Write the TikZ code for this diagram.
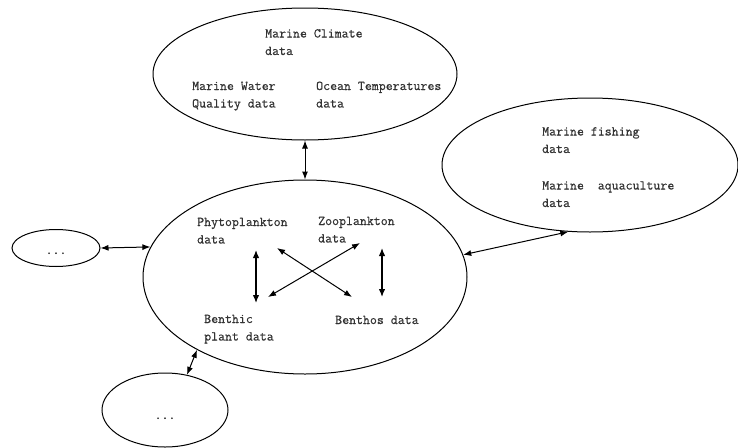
\documentclass[tikz,border=0pt]{standalone}
\usepackage{fontspec}
\newfontfamily\diagfont[FakeBold=0.6]{Latin Modern Mono}
\usetikzlibrary{shapes.geometric,arrows.meta}
\begin{document}
\begin{tikzpicture}[x=1pt,y=-1pt,
  blob/.style={draw, ellipse, line width=1pt, inner sep=0pt},
  lbl/.style={anchor=base west, inner sep=0pt, align=left, text=black!80,
    font=\diagfont\fontsize{13.5}{17.5}\selectfont},
  dots/.style={inner sep=0pt, text=black!80, font=\diagfont\fontsize{13.5}{14}\selectfont},
  link/.style={line width=1pt, {Latex[length=8pt,width=6pt]}-{Latex[length=8pt,width=6pt]}},
  inner/.style={line width=1.3pt, {Latex[length=8pt,width=6.5pt]}-{Latex[length=8pt,width=6.5pt]}}]
\useasboundingbox (0,0) rectangle (738,447);
% ellipses
\node[blob, minimum width=304pt, minimum height=132pt] (top) at (305,74) {};
\node[blob, minimum width=324pt, minimum height=194pt] (main) at (305,277) {};
\node[blob, minimum width=296pt, minimum height=134pt] (right) at (590,165) {};
\node[blob, minimum width=88pt, minimum height=37pt] (left) at (56,248) {};
\node[blob, minimum width=126pt, minimum height=74pt] (bottom) at (165,410) {};
% texts (base = baseline of last line)
\node[lbl] (climate) at (265,55) {Marine Climate\\data};
\node[lbl] (water) at (192,107.5) {Marine Water\\Quality data};
\node[lbl] (ocean) at (316,107.5) {Ocean Temperatures\\data};
\node[lbl] (fishing) at (542,153) {Marine fishing\\data};
\node[lbl] (aqua) at (542,207) {Marine\ \ aquaculture\\data};
\node[lbl] (phyto) at (197,243.5) {Phytoplankton\\data};
\node[lbl] (zoo) at (318,242.5) {Zooplankton\\data};
\node[lbl] (benthic) at (204,340.5) {Benthic\\plant data};
\node[lbl] (benthos) at (335,324) {Benthos data};
\node[dots, anchor=base] (ldots) at (56,254) {...};
\node[dots, anchor=base] (bdots) at (165,419) {...};
% outer connectors
\draw[link] (top.south) -- (main.north);
\draw[link] (left.east) -- (main.169.4);
\draw[link] (right.252) -- (main.8.5);
\draw[link] (bottom.58) -- (main.214.4);
% inner connectors
\coordinate (pA) at (256,250); \coordinate (bA) at (256,303);
\coordinate (pB) at (277,248); \coordinate (sB) at (352,297);
\coordinate (zC) at (360,243); \coordinate (bC) at (268,297);
\coordinate (zD) at (382,248); \coordinate (sD) at (382,297);
\draw[inner] (pA) -- (bA);
\draw[link] (pB) -- (sB);
\draw[link] (zC) -- (bC);
\draw[inner] (zD) -- (sD);
\end{tikzpicture}
\end{document}
